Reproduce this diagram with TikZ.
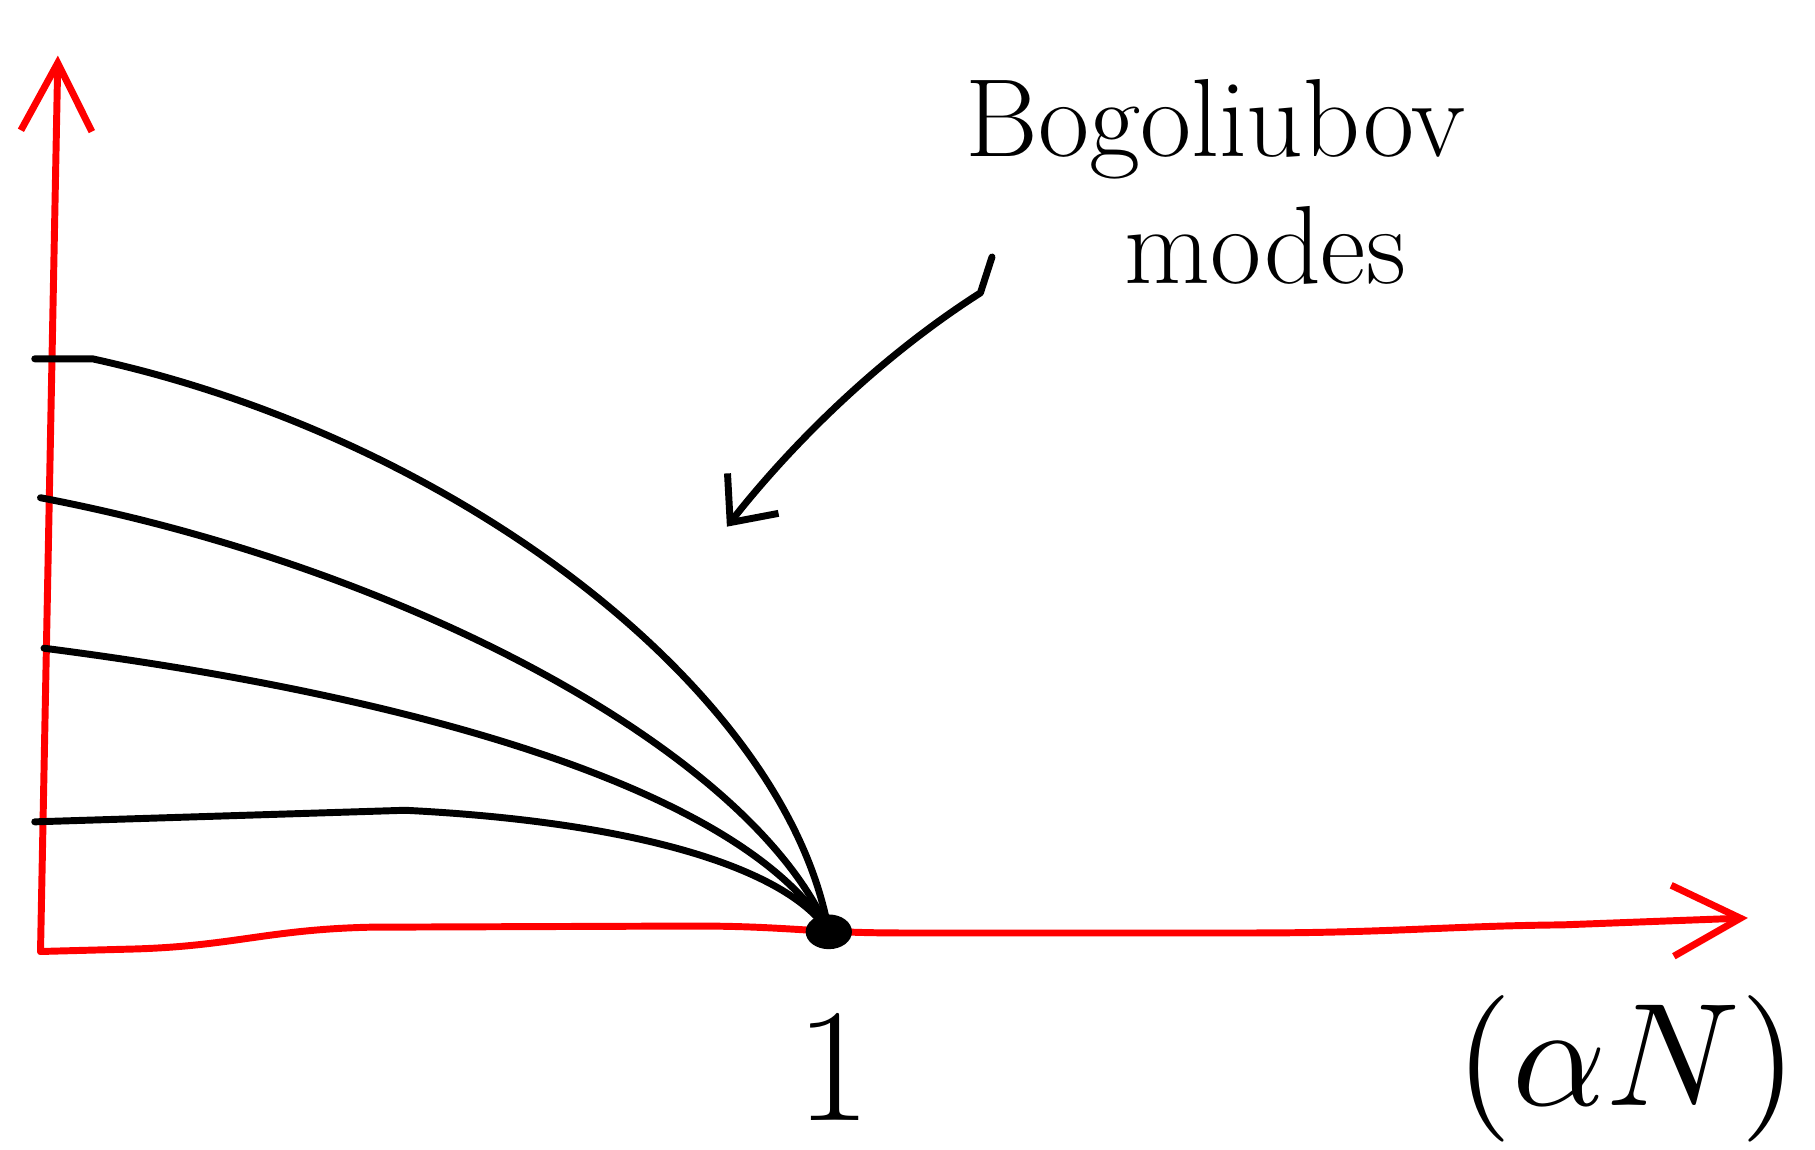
\documentclass[tikz,border=0pt]{standalone}
\usetikzlibrary{arrows.meta}

\tikzset{every picture/.style={line width=4.5pt}}
\tikzset{
  axis/.style={draw=red, line cap=round, line join=round,
    -{Straight Barb[length=44pt,width=46pt]}},
  mode/.style={draw=black, line cap=round, line join=round},
  pointer/.style={mode, -{Straight Barb[length=24pt,width=42pt]}},
  hand/.style={inner sep=0pt, anchor=base, font=\fontsize{72}{80}\selectfont},
}

\begin{document}
\begin{tikzpicture}[x=0.75pt,y=0.75pt,yscale=-1,xscale=1]
\useasboundingbox (0,0) rectangle (1568,993);

% Coordinates
\coordinate (O) at (35,822);
\coordinate (ytip) at (50,48);
\coordinate (xtip) at (1510,793);
\coordinate (p) at (716,805);
\coordinate (m1) at (30,310);
\coordinate (m2) at (35,430);
\coordinate (m3) at (38,560);
\coordinate (m4) at (30,710);
\coordinate (astart) at (857,222);
\coordinate (aend) at (628,455);

%Axes
\draw [axis] (O) -- (ytip);
\draw [axis] (O) -- (110,820) .. controls (200,818) and (230,803) .. (320,801) -- (600,800) .. controls (680,800) and (700,806) .. (780,806) -- (1080,806) .. controls (1200,806) and (1250,800) .. (1350,799) -- (xtip);

%Curve Lines
\draw [mode] (m1) -- (80,310) .. controls (400,380) and (680,600) .. (p);
\draw [mode] (m2) .. controls (350,490) and (650,650) .. (p);
\draw [mode] (m3) .. controls (350,600) and (640,680) .. (p);
\draw [mode] (m4) -- (350,700) .. controls (550,710) and (680,750) .. (p);
\fill (p) ellipse (20 and 15);

%Pointer
\draw [pointer] (astart) -- (847,253) .. controls (750,315) and (675,395) .. (aend);

% Text Node
\node [hand] (bogo) at (1050,135) {Bogoliubov};
% Text Node
\node [hand] (modes) at (1093,245) {modes};
% Text Node
\node [hand, font=\fontsize{105}{115}\selectfont] (one) at (720,968) {1};
% Text Node
\node [hand, font=\normalsize] (alphaN) at (1405,955) {\scalebox{9.5}{$(\alpha N)$}};

\end{tikzpicture}
\end{document}
